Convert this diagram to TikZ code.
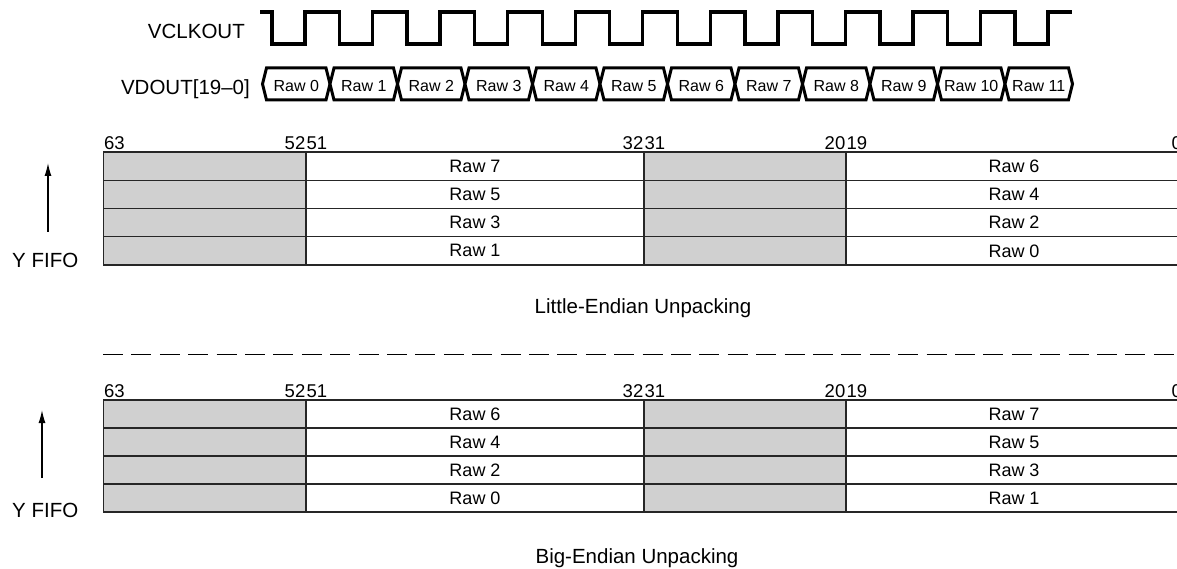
\documentclass[tikz,border=0pt]{standalone}
\usepackage{fontspec}
\setmainfont{Liberation Sans}
\usepackage{tikz}
\usetikzlibrary{arrows.meta}
\definecolor{padgray}{HTML}{D0D0D0}
\tikzset{
	clkwave/.style={
			line width=3.3pt,
			line join=miter
		},
	buscell/.style={
			line width=3pt,
			fill=white
		},
	rawtxt/.style={
			inner sep=0pt,
			font=\fontsize{16}{18}\selectfont
		},
	siglabel/.style={
			inner sep=0pt,
			anchor=base east,
			font=\fontsize{20.5}{24}\selectfont
		},
	bitno/.style={
			inner sep=0pt,
			font=\fontsize{18.5}{21}\selectfont
		},
	padcell/.style={
			rectangle,
			draw=black!85,
			line width=1.4pt,
			fill=padgray,
			inner sep=0pt,
			outer sep=0pt
		},
	datacell/.style={
			padcell,
			fill=white,
			font=\fontsize{18}{20}\selectfont
		},
	fifoarrow/.style={
			line width=1.3pt,
			-{Latex[length=13pt,width=7pt]}
		},
	caption/.style={
			inner sep=0pt,
			anchor=base,
			font=\fontsize{20.5}{24}\selectfont
		},
	sepline/.style={
			line width=1.5pt,
			dash pattern=on 20pt off 8.4pt
		}
}

\begin{document}
\begin{tikzpicture}[x=1pt, y=-1pt]
\useasboundingbox (0,0) rectangle (1177,569);

% timing
\node[siglabel] (clklbl) at (245,39) {VCLKOUT};
\node[siglabel] (buslbl) at (250,94.5) {VDOUT[19–0]};

\draw[clkwave] (260,12)
  \foreach \k in {0,...,11} {
    -- ({272+67.55*\k},12) -- ({272+67.55*\k},44)
    -- ({305+67.55*\k},44) -- ({305+67.55*\k},12)
  } -- (1072,12);

\foreach \k in {0,...,11} {
  \pgfmathsetmacro\xa{262.5+67.5*\k}
  \pgfmathsetmacro\xb{\xa+67.5}
  \draw[buscell] (\xa,84) -- (\xa+4,68) -- (\xb-4,68) -- (\xb,84)
    -- (\xb-4,100) -- (\xa+4,100) -- cycle;
  \node[rawtxt] (vd\k) at ({(\xa+\xb)/2},86) {Raw \k};
}

% little-endian
\node[bitno, anchor=base west] (le63) at (104,149.5) {63};
\node[bitno, anchor=base east] (le52) at (305.5,149.5) {52};
\node[bitno, anchor=base west] (le51) at (306.5,149.5) {51};
\node[bitno, anchor=base east] (le32) at (643.5,149.5) {32};
\node[bitno, anchor=base west] (le31) at (644.5,149.5) {31};
\node[bitno, anchor=base east] (le20) at (845.5,149.5) {20};
\node[bitno, anchor=base west] (le19) at (846.5,149.5) {19};
\node[bitno, anchor=base east] (le0) at (1182,149.5) {0};

\foreach \r in {1,...,4} {
  \pgfmathsetmacro\yc{152+28.25*(\r-0.5)}
  \pgfmathtruncatemacro\hi{2*(4-\r)+1}
  \pgfmathtruncatemacro\lo{2*(4-\r)}
  \node[padcell, minimum width=202.5pt, minimum height=28.25pt] (lepa\r) at (204.75,\yc) {};
  \node[datacell, minimum width=338pt, minimum height=28.25pt] (leda\r) at (475,\yc) {Raw \hi};
  \node[padcell, minimum width=202pt, minimum height=28.25pt] (lepb\r) at (745,\yc) {};
  \node[datacell, minimum width=336pt, minimum height=28.25pt] (ledb\r) at (1014,\yc) {Raw \lo};
}

\coordinate (letail) at (48,232);
\coordinate (lehead) at (48,163);
\draw[fifoarrow] (letail) -- (lehead);
\node[bitno, anchor=base west, font=\fontsize{20.5}{24}\selectfont] (lefifo) at (12,268) {Y FIFO};
\node[caption] (lecap) at (643,313) {Little-Endian Unpacking};

\coordinate (sepl) at (103,354.5);
\coordinate (sepr) at (1182,354.5);
\draw[sepline] (sepl) -- (sepr);

% big-endian
\node[bitno, anchor=base west] (be63) at (104,397.5) {63};
\node[bitno, anchor=base east] (be52) at (305.5,397.5) {52};
\node[bitno, anchor=base west] (be51) at (306.5,397.5) {51};
\node[bitno, anchor=base east] (be32) at (643.5,397.5) {32};
\node[bitno, anchor=base west] (be31) at (644.5,397.5) {31};
\node[bitno, anchor=base east] (be20) at (845.5,397.5) {20};
\node[bitno, anchor=base west] (be19) at (846.5,397.5) {19};
\node[bitno, anchor=base east] (be0) at (1182,397.5) {0};

\foreach \r in {1,...,4} {
  \pgfmathsetmacro\yc{400+28*(\r-0.5)}
  \pgfmathtruncatemacro\hi{2*(4-\r)+1}
  \pgfmathtruncatemacro\lo{2*(4-\r)}
  \node[padcell, minimum width=202.5pt, minimum height=28pt] (bepa\r) at (204.75,\yc) {};
  \node[datacell, minimum width=338pt, minimum height=28pt] (beda\r) at (475,\yc) {Raw \lo};
  \node[padcell, minimum width=202pt, minimum height=28pt] (bepb\r) at (745,\yc) {};
  \node[datacell, minimum width=336pt, minimum height=28pt] (bedb\r) at (1014,\yc) {Raw \hi};
}

\coordinate (betail) at (42,478);
\coordinate (behead) at (42,410);
\draw[fifoarrow] (betail) -- (behead);
\node[bitno, anchor=base west, font=\fontsize{20.5}{24}\selectfont] (befifo) at (12,517) {Y FIFO};
\node[caption] (becap) at (637,563) {Big-Endian Unpacking};
\end{tikzpicture}
\end{document}
